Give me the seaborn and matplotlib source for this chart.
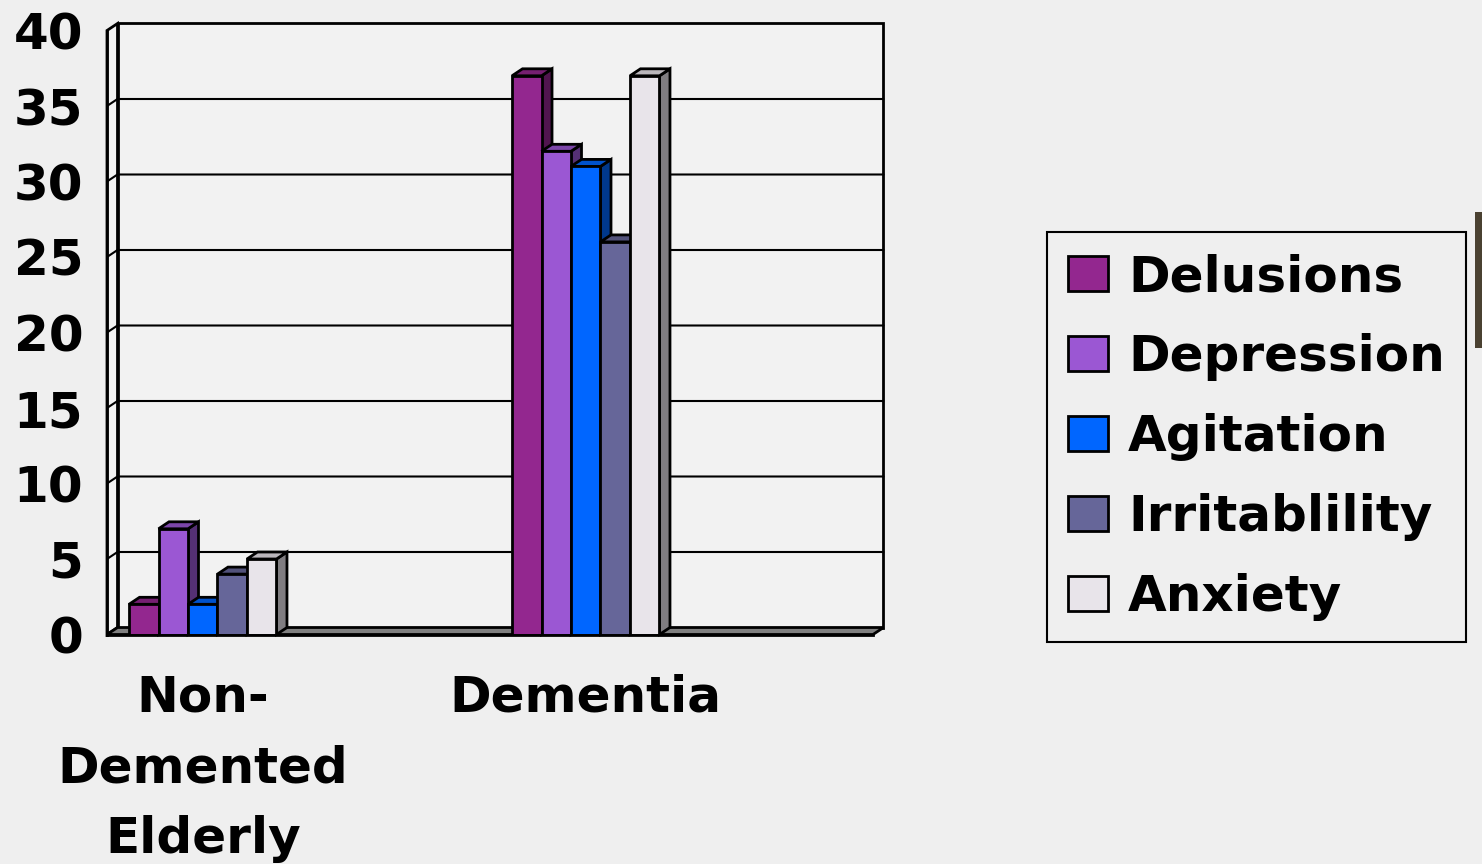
import numpy as np
import pandas as pd
import matplotlib
matplotlib.use("Agg")
import matplotlib.pyplot as plt
from matplotlib.patches import Polygon, Patch, Rectangle
from matplotlib.colors import to_rgb
import seaborn as sns

# --- data -------------------------------------------------------------
slots = ["Non-Demented Elderly", "slot_b", "Dementia", "slot_d"]
slot_labels = ["Non-\nDemented\nElderly", "", "Dementia", ""]
symptoms = ["Delusions", "Depression", "Agitation", "Irritablility", "Anxiety"]
non_demented = [2, 7, 2, 4, 5]
dementia = [37, 32, 31, 26, 37]
colors = ["#93278F", "#9B57D3", "#0066FF", "#666699", "#E8E4EA"]
y_ticks = [0, 5, 10, 15, 20, 25, 30, 35, 40]

df = pd.DataFrame({
    "group": ["Non-Demented Elderly"] * len(symptoms) + ["Dementia"] * len(symptoms),
    "symptom": symptoms * 2,
    "value": non_demented + dementia,
})

# --- style ------------------------------------------------------------
sns.set_style("white")
bg = "#EFEFEF"
plt.rcParams["font.family"] = ["DejaVu Sans"]
plt.rcParams["font.weight"] = "bold"
plt.rcParams["text.color"] = "black"
plt.rcParams["xtick.color"] = "black"
plt.rcParams["ytick.color"] = "black"
plt.rcParams["xtick.labelcolor"] = "black"
plt.rcParams["ytick.labelcolor"] = "black"

W, H = 1482, 864
fig = plt.figure(figsize=(W / 100, H / 100), dpi=100, facecolor=bg)
# front plane of the 3-D box, in pixels
x_left, x_right, y_zero, y_top = 107, 873, 634.5, 30.5
ax = fig.add_axes([x_left / W, 1 - y_zero / H, (x_right - x_left) / W, (y_zero - y_top) / H])
ax.set_facecolor("none")

lw = 2.0
sns.barplot(data=df, x="group", y="value", hue="symptom", order=slots,
            hue_order=symptoms, palette=colors, width=0.77, saturation=1,
            edgecolor="black", linewidth=lw, legend=False, ax=ax)

ax.set_xlim(-0.5, len(slots) - 0.5)
ax.set_ylim(0, 40)

# depth of the 3-D box expressed in data units
depth_px = (10.5, 7.0)
dxd = depth_px[0] / ((x_right - x_left) / len(slots))
dyd = depth_px[1] / ((y_zero - y_top) / 40)
x0, x1 = -0.5, len(slots) - 0.5

# back wall, left wall and floor
ax.add_patch(Polygon([(x0 + dxd, dyd), (x1 + dxd, dyd), (x1 + dxd, 40 + dyd), (x0 + dxd, 40 + dyd)],
                     closed=True, facecolor="#F2F2F2", edgecolor="black", lw=lw, zorder=0.5, clip_on=False))
ax.add_patch(Polygon([(x0, 0), (x0 + dxd, dyd), (x0 + dxd, 40 + dyd), (x0, 40)],
                     closed=True, facecolor="#F2F2F2", edgecolor="black", lw=lw, zorder=0.6, clip_on=False))
for yv in y_ticks[1:-1]:
    ax.plot([x0, x0 + dxd, x1 + dxd], [yv, yv + dyd, yv + dyd], color="black", lw=1.5,
            zorder=0.7, clip_on=False, solid_joinstyle="miter")
ax.add_patch(Polygon([(x0, 0), (x1, 0), (x1 + dxd, dyd), (x0 + dxd, dyd)],
                     closed=True, facecolor="#808080", edgecolor="black", lw=lw, zorder=0.8, clip_on=False))


def shade(c, f):
    r, g, b = to_rgb(c)
    return (r * f, g * f, b * f)


# extrude every bar: side face and top face drawn just under its front face
bars = sorted([p for p in ax.patches if isinstance(p, Rectangle) and p.get_height() > 0],
              key=lambda p: p.get_x())
for i, p in enumerate(bars):
    bx, bw, bh = p.get_x(), p.get_width(), p.get_height()
    fc = p.get_facecolor()[:3]
    z = 3 + 0.01 * i
    p.set_zorder(z + 0.005)
    side = Polygon([(bx + bw, 0), (bx + bw + dxd, dyd), (bx + bw + dxd, bh + dyd), (bx + bw, bh)],
                   closed=True, facecolor=shade(fc, 0.55), edgecolor="black", lw=lw,
                   zorder=z, clip_on=False, joinstyle="miter")
    top = Polygon([(bx, bh), (bx + dxd, bh + dyd), (bx + bw + dxd, bh + dyd), (bx + bw, bh)],
                  closed=True, facecolor=shade(fc, 0.8), edgecolor="black", lw=lw,
                  zorder=z, clip_on=False, joinstyle="miter")
    ax.add_patch(side)
    ax.add_patch(top)

# axes: front y-axis and front floor edge
for s in ["top", "right"]:
    ax.spines[s].set_visible(False)
for s in ["left", "bottom"]:
    ax.spines[s].set_linewidth(lw)
    ax.spines[s].set_color("black")
    ax.spines[s].set_zorder(5)

ax.set_yticks(y_ticks)
ax.set_yticklabels([str(v) for v in y_ticks], fontsize=36, fontweight="bold", color="black")
ax.tick_params(axis="y", direction="out", length=8, width=lw, pad=9, color="black")

ax.set_xticks(np.arange(-0.5, len(slots), 1.0))
ax.set_xticklabels([""] * (len(slots) + 1))
ax.tick_params(axis="x", which="major", direction="out", length=8, width=lw, color="black")
ax.set_xticks(np.arange(len(slots)), minor=True)
ax.set_xticklabels(slot_labels, minor=True, fontsize=36, fontweight="bold", linespacing=1.6,
                   color="black")
ax.tick_params(axis="x", which="minor", length=0, pad=28)
ax.set_xlabel("")
ax.set_ylabel("")

# legend
handles = [Patch(facecolor=c, edgecolor="black", linewidth=lw) for c in colors]
leg = fig.legend(handles, symptoms, loc="upper left",
                 bbox_to_anchor=(1047 / W, 1 - 232 / H), bbox_transform=fig.transFigure,
                 frameon=True, fancybox=False, framealpha=1, facecolor=bg, edgecolor="black",
                 prop={"size": 36, "weight": "bold"}, handlelength=0.8, handleheight=0.72,
                 handletextpad=0.4, labelspacing=0.64, borderpad=0.42, borderaxespad=0)
leg.get_frame().set_linewidth(1.5)
for t in leg.get_texts():
    t.set_color("black")

# dark edge strip on the right border
fig.patches.append(Rectangle((1475 / W, 1 - 348 / H), 7 / W, 136 / H, transform=fig.transFigure,
                             facecolor="#4A4131", edgecolor="none", zorder=10))

fig.savefig("out.png", dpi=100, facecolor=bg)
